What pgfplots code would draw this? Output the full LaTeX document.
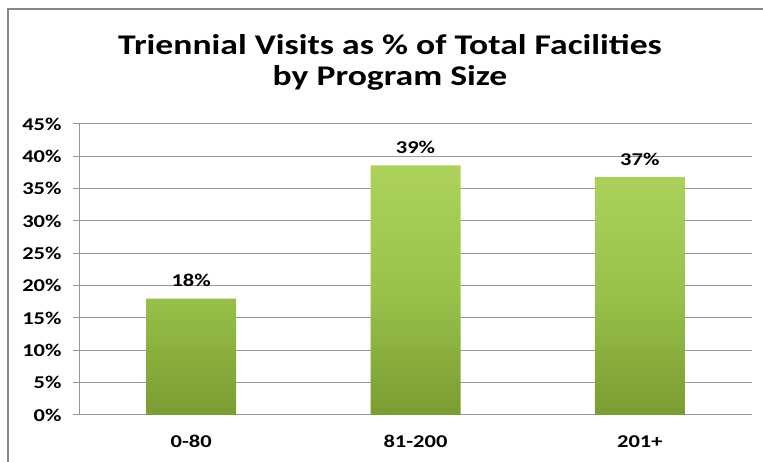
\documentclass[border=0pt]{standalone}
\usepackage{pgfplots}
\pgfplotsset{compat=1.18}
\usepackage{fontspec}
\setmainfont{Carlito}
\newfontfamily\wide{Carlito}[FakeStretch=1.25]
\definecolor{gridgray}{RGB}{150,150,150}
\definecolor{framegray}{RGB}{135,135,135}
\definecolor{bartop}{RGB}{172,210,92}
\definecolor{barmid}{RGB}{154,194,74}
\definecolor{barbot}{RGB}{122,156,50}

\begin{document}
\begin{tikzpicture}[font=\wide\bfseries]
\path[use as bounding box] (0pt,0pt) rectangle (763pt,462pt);
% chart frame (only top and left edges are visible in the crop)
\draw[framegray, line width=1.5pt] (8pt,0pt) -- (8pt,453pt) -- (763pt,453pt);

\node[align=center, font=\fontsize{28.5}{31}\selectfont\wide\bfseries] at (390pt,400pt)
    {Triennial Visits as \% of Total Facilities\\by Program Size};

\begin{axis}[
    at={(79pt,47pt)}, anchor=south west,
    scale only axis,
    width=673pt, height=291pt,
    xmin=-0.5, xmax=2.5,
    ymin=0, ymax=45,
    axis x line*=bottom, axis y line*=left,
    axis line style={gridgray, line width=1pt},
    xtick={0,1,2},
    xticklabels={0-80,81-200,201+},
    major x tick style={draw=none},
    extra x ticks={-0.5,0.5,1.5,2.5},
    extra x tick labels={},
    extra x tick style={tick align=outside, major tick length=6pt,
        major tick style={gridgray, line width=1pt}, grid=none},
    ytick={0,5,...,45},
    yticklabels={0\%,5\%,10\%,15\%,20\%,25\%,30\%,35\%,40\%,45\%},
    tick align=outside,
    major tick length=6pt,
    tick style={gridgray, line width=1pt},
    ymajorgrids,
    grid style={gridgray, line width=1pt},
    ticklabel style={font=\fontsize{18}{21}\selectfont\wide\bfseries},
    yticklabel style={xshift=-8pt},
    xticklabel style={yshift=-11pt},
    /pgf/number format/assume math mode=true,
    nodes near coords={\pgfmathprintnumber[fixed,precision=0]{\pgfplotspointmeta}\%},
    every node near coord/.append style={font=\fontsize{18}{21}\selectfont\wide\bfseries, yshift=8pt},
]
\addplot[ybar, bar width=90pt, draw=none,
    top color=bartop, bottom color=barbot, middle color=barmid]
    coordinates {(0,18.0) (1,38.6) (2,36.8)};
\end{axis}
\end{tikzpicture}
\end{document}
